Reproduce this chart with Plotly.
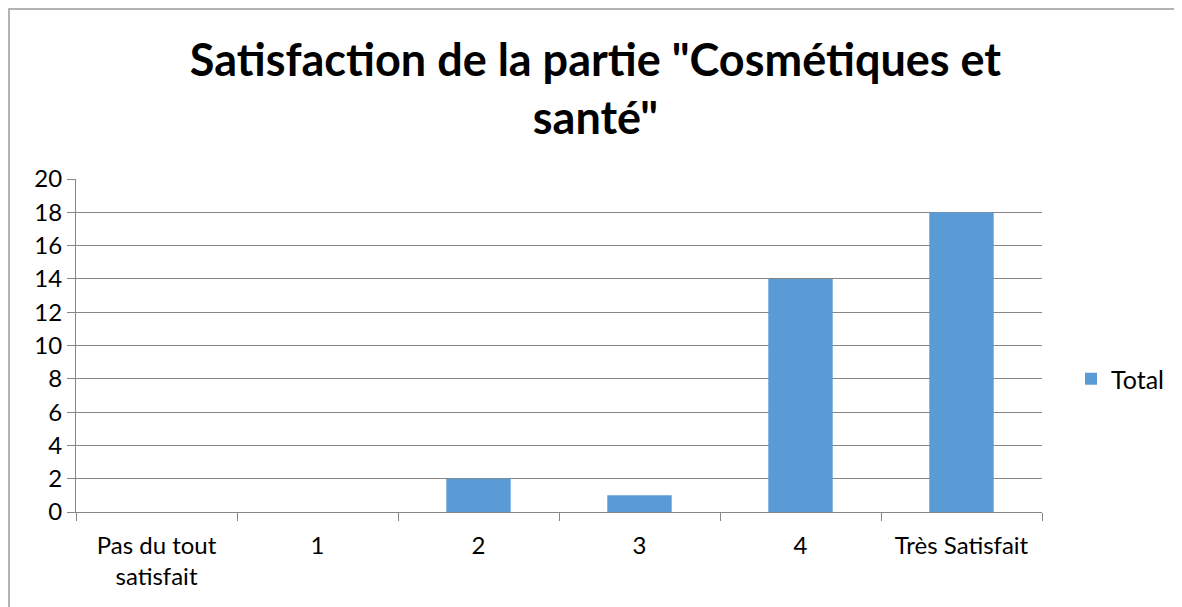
import plotly.graph_objects as go

categories = ["Pas du tout<br>satisfait", "1", "2", "3", "4", "Très Satisfait"]
values = [0, 0, 2, 1, 14, 18]
y_ticks = [0, 2, 4, 6, 8, 10, 12, 14, 16, 18, 20]

FONT = "Lato, Carlito, Calibri, sans-serif"

# page body has an 8px margin: figure coords = screen coords - 8
L, R, T, B = 68, 1034, 171, 504
W, H = 1182, 607

fig = go.Figure()
fig.add_trace(go.Bar(x=categories, y=values, name="Total",
                     marker=dict(color="#5B9BD5", line=dict(width=0))))

fig.update_layout(
    width=W, height=H,
    paper_bgcolor="white", plot_bgcolor="white",
    margin=dict(l=L, r=W - R, t=T, b=H - B, autoexpand=False),
    bargap=0.6,
    showlegend=True,
    title=dict(text="<b>Satisfaction de la partie \"Cosmétiques et<br>santé\"</b>",
               x=0.497, xanchor="center", y=0.888, yanchor="middle",
               xref="container", yref="container",
               font=dict(family=FONT, size=45, color="#000000")),
    legend=dict(x=1063 / W, xanchor="left", y=(H - 371) / H, yanchor="middle",
                xref="container", yref="container",
                font=dict(family=FONT, size=25, color="#000000"),
                itemwidth=30, bgcolor="rgba(0,0,0,0)"),
    font=dict(family=FONT, size=24, color="#000000"),
)
fig.update_xaxes(type="category", showgrid=False, showline=True, linecolor="#868686",
                 linewidth=1, ticks="outside", tickson="boundaries", ticklen=8,
                 tickcolor="#868686", automargin=False, ticklabelstandoff=12,
                 tickfont=dict(family=FONT, size=24, color="#000000"))
fig.update_yaxes(range=[0, 20], tickvals=y_ticks, showgrid=True, gridcolor="#868686",
                 gridwidth=1, showline=True, linecolor="#868686", linewidth=1,
                 ticks="outside", ticklen=8, tickcolor="#868686", zeroline=False,
                 automargin=False,
                 tickfont=dict(family=FONT, size=24, color="#000000"))

pw, ph = R - L, B - T
fig.add_shape(type="rect", xref="paper", yref="paper",
              x0=(1 - L) / pw, x1=(W + 20 - L) / pw,
              y0=-(H + 20 - B) / ph, y1=(B - 1) / ph,
              line=dict(color="#9A9A9A", width=1.5), fillcolor="rgba(0,0,0,0)", layer="below")

fig.write_html("out.html")
